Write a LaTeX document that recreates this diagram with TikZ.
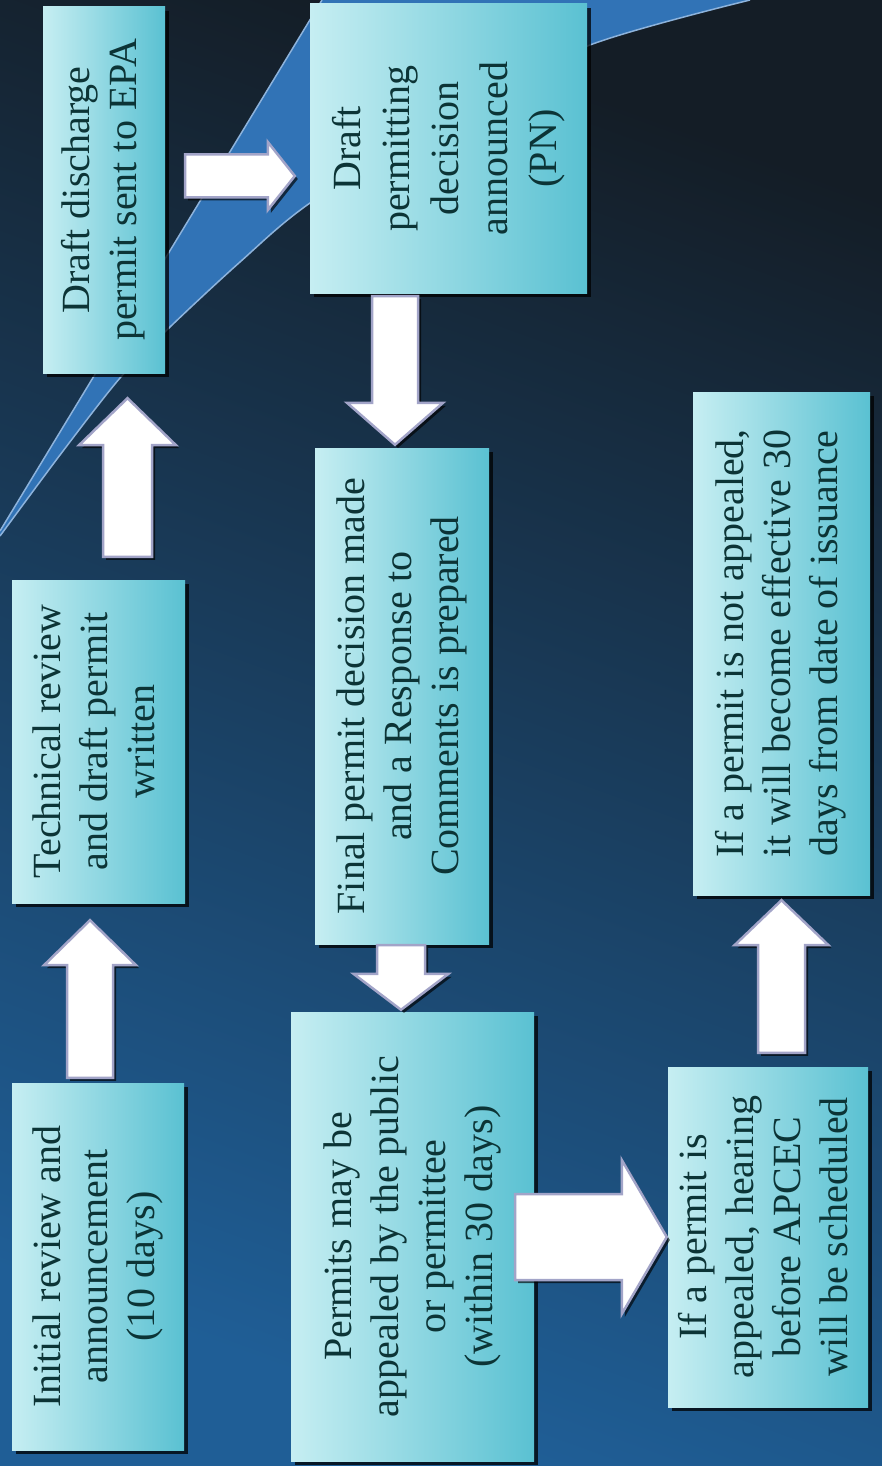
\documentclass[tikz,border=0pt]{standalone}
\usepackage{graphicx}
\usepackage{fontspec}
\setmainfont{Liberation Serif}
\usetikzlibrary{calc,shadows}
\definecolor{bgtop}{HTML}{141D26}
\definecolor{bgmid}{HTML}{1C3F60}
\definecolor{bgbot}{HTML}{1F5E96}
\definecolor{bandblue}{HTML}{3173B6}
\definecolor{bandedge}{HTML}{8DB3DC}
\definecolor{boxlight}{HTML}{C6EEF2}
\definecolor{boxdark}{HTML}{5AC1D2}
\definecolor{boxtext}{HTML}{0C3436}
\definecolor{arrowrim}{HTML}{A2A4C8}
\newcommand\vlines[1]{\rotatebox{90}{\begin{tabular}{@{}c@{}}#1\end{tabular}}}
\newcommand\blockarr[6]{%
  \coordinate (#1h) at ($(#3)!#6!(#2)$);
  \draw[blockarrow] ($(#2)!#4!90:(#3)$) -- ($(#1h)!#4!-90:(#2)$) -- ($(#1h)!#5!-90:(#2)$) -- (#3)
     -- ($(#1h)!#5!90:(#2)$) -- ($(#1h)!#4!90:(#2)$) -- ($(#2)!#4!-90:(#3)$) -- cycle;}
\tikzset{
  box/.style={rectangle, inner sep=0pt, left color=boxlight, right color=boxdark,
    drop shadow={shadow xshift=4pt, shadow yshift=-4pt, opacity=0.75, fill=black},
    text=boxtext, font=\fontsize{40}{47}\selectfont},
  blockarrow/.style={fill=white, draw=arrowrim, line width=2.5pt, line join=miter,
    drop shadow={shadow xshift=3pt, shadow yshift=-3pt, opacity=0.65, fill=black}},
}
\begin{document}
\begin{tikzpicture}[x=1pt,y=-1pt]
\useasboundingbox (0,0) rectangle (882,1466);
\shade[top color=bgtop, middle color=bgmid, bottom color=bgbot, shading angle=-20] (0,0) rectangle (882,1466);
% curved ribbon
\fill[bandblue] plot[smooth] coordinates {(0,536) (60,455) (120,378) (170,327) (240,262) (310,203) (450,115) (590,45) (750,0)} -- (322,0) -- (0,531) -- cycle;
\draw[bandedge, line width=1.5pt] plot[smooth] coordinates {(0,536) (60,455) (120,378) (170,327) (240,262) (310,203) (450,115) (590,45) (750,0)};
\draw[bandedge, line width=1.5pt] (322,0) -- (0,531);
% boxes
\node[box, minimum width=172pt, minimum height=367pt] (b1) at (98,1266.5) {\vlines{Initial review and\\announcement\\(10 days)}};
\node[box, minimum width=173pt, minimum height=323pt] (b2) at (98.5,741.5) {\vlines{Technical review\\and draft permit\\written}};
\node[box, minimum width=122pt, minimum height=366pt] (b3) at (104,190) {\vlines{Draft discharge\\permit sent to EPA}};
\node[box, minimum width=277pt, minimum height=289pt, font=\fontsize{40}{49}\selectfont] (b4) at (448.5,148.5) {\vlines{Draft\\permitting\\decision\\announced\\(PN)}};
\node[box, minimum width=174pt, minimum height=496pt] (b5) at (402,696) {\vlines{Final permit decision made\\and a Response to\\Comments is prepared}};
\node[box, minimum width=243pt, minimum height=449pt] (b6) at (412.5,1236.5) {\vlines{Permits may be\\appealed by the public\\or permittee\\(within 30 days)}};
\node[box, minimum width=200pt, minimum height=340pt] (b7) at (768,1237) {\vlines{If a permit is\\appealed, hearing\\before APCEC\\will be scheduled}};
\node[box, minimum width=177pt, minimum height=503pt] (b8) at (781.5,643.5) {\vlines{If a permit is not appealed,\\it will become effective 30\\days from date of issuance}};
% arrow ends
\coordinate (a12s) at ($(b1.north)+(-8,-5)$);
\coordinate (a12t) at ($(b2.south)+(-8.5,17)$);
\coordinate (a23s) at ($(b2.north)+(29,-23)$);
\coordinate (a23t) at ($(b3.south)+(23.5,25)$);
\coordinate (a34s) at ($(b3.east)+(20,-14)$);
\coordinate (a34t) at ($(b4.west)+(-15,27.5)$);
\coordinate (a45s) at ($(b4.south)+(-53.5,3)$);
\coordinate (a45t) at ($(b5.north)+(-7,-3)$);
\coordinate (a56s) at ($(b5.south)+(-1,1)$);
\coordinate (a56t) at ($(b6.north)+(-11.5,-2)$);
\coordinate (a67s) at ($(b6.east)+(-19,0.5)$);
\coordinate (a67t) at ($(b7.west)+(-1,0)$);
\coordinate (a78s) at ($(b7.north)+(13.5,-14)$);
\coordinate (a78t) at ($(b8.south)+(0,5)$);
% block arrows
\blockarr{a12}{a12s}{a12t}{23pt}{46pt}{45pt}
\blockarr{a23}{a23s}{a23t}{24.5pt}{48.5pt}{47pt}
\blockarr{a34}{a34s}{a34t}{21.5pt}{34pt}{27pt}
\blockarr{a45}{a45s}{a45t}{23pt}{48pt}{42pt}
\blockarr{a56}{a56s}{a56t}{24pt}{47.5pt}{36pt}
\blockarr{a67}{a67s}{a67t}{43pt}{77pt}{45pt}
\blockarr{a78}{a78s}{a78t}{23.5pt}{47pt}{45pt}
\end{tikzpicture}
\end{document}
